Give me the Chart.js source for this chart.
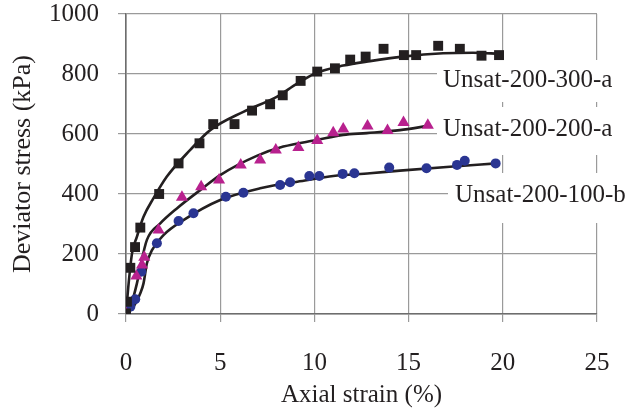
<!DOCTYPE html>
<html>
<head>
<meta charset="utf-8">
<script src="https://cdn.jsdelivr.net/npm/chart.js@4.4.1/dist/chart.umd.min.js"></script>
<style>
  html, body { margin: 0; padding: 0; background: #fff; }
  #wrap { width: 629px; height: 408px; }
</style>
</head>
<body>
<div id="wrap"><canvas id="c" width="629" height="408"></canvas></div>
<script>
// series names (drawn as labels next to the curves)
const seriesNames = ['Unsat-200-300-a', 'Unsat-200-200-a', 'Unsat-200-100-b'];

// measured points: axial strain (%) / deviator stress (kPa)
const sq_x = [0, 0.05, 0.23, 0.48, 0.76, 1.76, 2.79, 3.9, 4.63, 5.76, 6.69, 7.65, 8.32, 9.27, 10.15, 11.09, 11.9, 12.72, 13.67, 14.75, 15.4, 16.57, 17.72, 18.87, 19.8];
const sq_y = [2, 41, 154, 223, 288, 400, 502, 569, 633, 633, 678, 699, 729, 777, 808, 819, 848, 858, 884, 863, 863, 894, 884, 861, 863];

const tri_x = [0, 0.55, 0.85, 0.97, 1.73, 2.97, 3.99, 4.94, 6.09, 7.12, 7.95, 9.15, 10.15, 11.0, 11.53, 12.82, 13.88, 14.73, 16.02];
const tri_y = [2, 127, 163, 189, 280, 389, 424, 447, 497, 513, 547, 555, 578, 604, 617, 627, 612, 638, 629];

const dot_x = [0, 0.23, 0.49, 0.81, 1.64, 2.79, 3.58, 5.3, 6.23, 8.18, 8.71, 9.73, 10.26, 11.5, 12.12, 13.97, 15.95, 17.57, 17.98, 19.62];
const dot_y = [5, 24, 49, 141, 236, 310, 336, 391, 404, 430, 439, 460, 460, 467, 469, 488, 486, 497, 511, 502];

// fitted curves
const fit1_x = [0, 0.14, 0.32, 0.58, 0.93, 1.46, 2.17, 3.41, 4.47, 6.23, 8.0, 9.06, 10.12, 11.53, 12.95, 14.7, 16.83, 18.42, 19.84];
const fit1_y = [0, 102, 202, 258, 324, 386, 458, 547, 613, 674, 724, 767, 804, 828, 843, 858, 869, 871, 867];

const fit2_x = [0, 0.23, 0.58, 0.76, 1.11, 1.82, 2.7, 3.94, 5.0, 6.94, 8.35, 10.12, 11.53, 12.77, 14.54, 16.04];
const fit2_y = [0, 24, 102, 158, 247, 302, 352, 413, 463, 527, 558, 580, 597, 603, 613, 627];

const fit3_x = [0, 0.4, 0.76, 0.93, 1.11, 1.38, 1.99, 3.05, 5.0, 7.12, 9.5, 11.0, 12.95, 14.54, 17.19, 19.66];
const fit3_y = [0, 24, 69, 102, 169, 213, 263, 313, 380, 419, 445, 460, 469, 478, 491, 502];

const xTicks = [0, 5, 10, 15, 20, 25];
const yTicks = [0, 200, 400, 600, 800, 1000];

const pts = (xs, ys) => xs.map((x, i) => ({ x: x, y: ys[i] }));

const FONT = 'Liberation Serif';
const GRID = '#9a9a9a';

// label boxes, white background over the grid
const labelPlugin = {
  id: 'curveLabels',
  beforeDatasetsDraw(chart) {
    const ctx = chart.ctx;
    const spots = [
      { text: seriesNames[0], bx: 437, by: 60, bh: 42, tx: 443, ty: 80 },
      { text: seriesNames[1], bx: 437, by: 107, bh: 48, tx: 443, ty: 129 },
      { text: seriesNames[2], bx: 448, by: 173, bh: 50, tx: 455, ty: 195 }
    ];
    ctx.save();
    spots.forEach(s => {
      ctx.fillStyle = '#fff';
      ctx.fillRect(s.bx, s.by, 629 - s.bx, s.bh);
      ctx.fillStyle = '#231f20';
      ctx.font = '25px "' + FONT + '"';
      ctx.textBaseline = 'middle';
      ctx.textAlign = 'left';
      ctx.fillText(s.text, s.tx, s.ty);
    });
    ctx.restore();
  }
};

const markerSet = (data, style, color, r) => ({
  data: data,
  showLine: false,
  pointStyle: style,
  pointRadius: r,
  pointBackgroundColor: color,
  pointBorderColor: color,
  pointBorderWidth: 0,
  order: 0
});

const fitSet = (data) => ({
  data: data,
  showLine: true,
  pointRadius: 0,
  borderColor: '#231f20',
  borderWidth: 2.6,
  cubicInterpolationMode: 'monotone',
  fill: false,
  order: 1
});

const noPad = s => { s.paddingTop = 0; s.paddingBottom = 0; s.paddingLeft = 0; s.paddingRight = 0; };

new Chart(document.getElementById('c'), {
  type: 'scatter',
  data: {
    datasets: [
      markerSet(pts(sq_x, sq_y), 'rect', '#231f20', 7),
      markerSet(pts(tri_x, tri_y), 'triangle', '#b8218e', 7),
      markerSet(pts(dot_x, dot_y), 'circle', '#2a3592', 5),
      fitSet(pts(fit1_x, fit1_y)),
      fitSet(pts(fit2_x, fit2_y)),
      fitSet(pts(fit3_x, fit3_y))
    ]
  },
  options: {
    responsive: false,
    animation: false,
    layout: { padding: { top: 14, right: 32, left: 0, bottom: 0 } },
    plugins: { legend: { display: false }, tooltip: { enabled: false } },
    scales: {
      x: {
        type: 'linear',
        min: 0, max: 25,
        afterBuildTicks: s => { s.ticks = xTicks.map(v => ({ value: v })); },
        afterFit: s => { s.height = 94; noPad(s); },
        grid: { color: GRID, lineWidth: 1.2, tickLength: 8 },
        border: { color: '#6d6d6d', width: 1.6 },
        ticks: { color: '#231f20', font: { family: FONT, size: 25 }, padding: 26, callback: v => String(v) },
        title: { display: true, text: 'Axial strain (%)', color: '#231f20', font: { family: FONT, size: 25 }, padding: { top: 0, bottom: -2 } }
      },
      y: {
        type: 'linear',
        min: 0, max: 1000,
        afterBuildTicks: s => { s.ticks = yTicks.map(v => ({ value: v })); },
        afterFit: s => { s.width = 126; noPad(s); },
        grid: { color: GRID, lineWidth: 1.2, tickLength: 8 },
        border: { color: '#6d6d6d', width: 1.6 },
        ticks: { color: '#231f20', font: { family: FONT, size: 25 }, padding: 19, callback: v => String(v) },
        title: { display: true, text: 'Deviator stress (kPa)', color: '#231f20', font: { family: FONT, size: 26 }, padding: { top: 8, bottom: 0 } }
      }
    }
  },
  plugins: [labelPlugin]
});
</script>
</body>
</html>
